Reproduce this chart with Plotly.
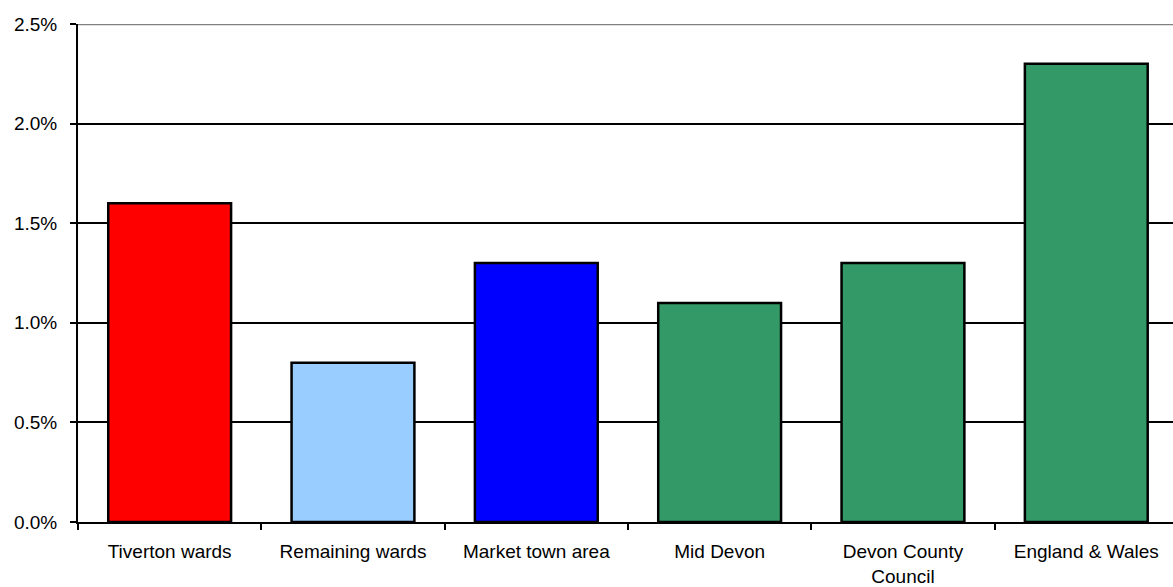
import plotly.graph_objects as go

categories = ["Tiverton wards", "Remaining wards", "Market town area", "Mid Devon",
              "Devon County<br>Council", "England & Wales"]
values = [0.016, 0.008, 0.013, 0.011, 0.013, 0.023]
colors = ["#FF0000", "#99CCFF", "#0000FF", "#339966", "#339966", "#339966"]
y_ticks = [0, 0.005, 0.01, 0.015, 0.02, 0.025]

fig = go.Figure(go.Bar(
    x=categories, y=values,
    marker=dict(color=colors, line=dict(color="black", width=2.5)),
    width=0.67,
))

fig.update_layout(
    width=1173, height=587,
    margin=dict(l=78, r=0, t=24, b=65),
    paper_bgcolor="white", plot_bgcolor="white",
    font=dict(family="Liberation Sans, Arial, sans-serif", size=19, color="black"),
    showlegend=False,
)
fig.update_xaxes(
    range=[-0.5, 5.473],
    showline=True, linecolor="black", linewidth=2,
    ticks="outside", tickson="boundaries", ticklen=6, tickcolor="black", tickwidth=2,
    showgrid=False, ticklabelstandoff=11,
)
fig.update_yaxes(
    range=[0, 0.025], tickvals=y_ticks, tickformat=".1%",
    showline=True, linecolor="black", linewidth=2,
    ticks="outside", ticklen=6, tickcolor="black", tickwidth=2,
    showgrid=True, gridcolor="black", gridwidth=1.5,
    zeroline=False, ticklabelstandoff=9,
)
fig.add_shape(type="line", xref="paper", yref="y", x0=0, x1=1, y0=0.025, y1=0.025,
              line=dict(color="#808080", width=2.5), layer="above")

fig.write_html("out.html", config={"displayModeBar": False},
               post_script="document.body.style.margin='0';document.body.style.overflow='hidden';")
